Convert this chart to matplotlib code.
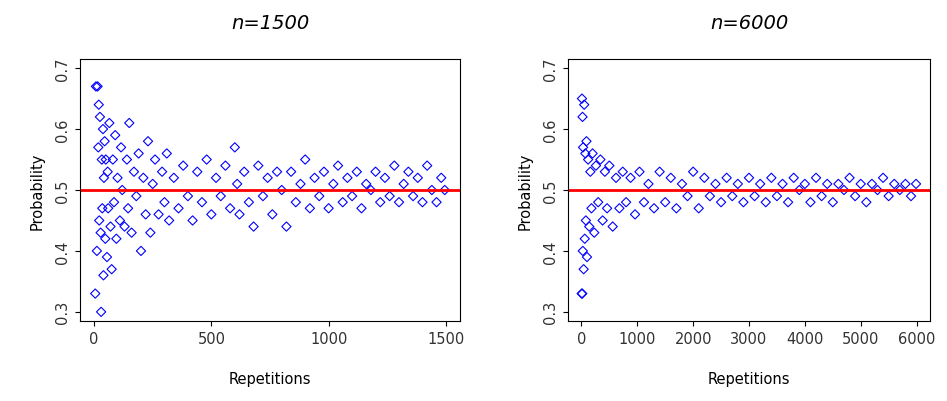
import matplotlib
matplotlib.use('Agg')
import matplotlib.pyplot as plt

# values (a representative subset of the points)
rep_1500 = [5, 8, 12, 15, 18, 20, 22, 25, 28, 30, 33, 35, 38, 40, 42, 45, 48, 50, 55, 58,
            60, 65, 70, 75, 80, 85, 90, 95, 100, 110, 115, 120, 130, 140, 145, 150, 160, 170,
            180, 190, 200, 210, 220, 230, 240, 250, 260, 275, 290, 300, 310, 320, 340, 360,
            380, 400, 420, 440, 460, 480, 500, 520, 540, 560, 580, 600, 610, 620, 640, 660,
            680, 700, 720, 740, 760, 780, 800, 820, 840, 860, 880, 900, 920, 940, 960, 980,
            1000, 1020, 1040, 1060, 1080, 1100, 1120, 1140, 1160, 1180, 1200, 1220, 1240,
            1260, 1280, 1300, 1320, 1340, 1360, 1380, 1400, 1420, 1440, 1460, 1480, 1495]
prob_1500 = [0.33, 0.67, 0.40, 0.67, 0.57, 0.64, 0.45, 0.62, 0.43, 0.30, 0.55, 0.47, 0.60,
             0.36, 0.52, 0.58, 0.42, 0.55, 0.39, 0.53, 0.47, 0.61, 0.44, 0.37, 0.55, 0.48,
             0.59, 0.42, 0.52, 0.45, 0.57, 0.50, 0.44, 0.55, 0.47, 0.61, 0.43, 0.53, 0.49,
             0.56, 0.40, 0.52, 0.46, 0.58, 0.43, 0.51, 0.55, 0.46, 0.53, 0.48, 0.56, 0.45,
             0.52, 0.47, 0.54, 0.49, 0.45, 0.53, 0.48, 0.55, 0.46, 0.52, 0.49, 0.54, 0.47,
             0.57, 0.51, 0.46, 0.53, 0.48, 0.44, 0.54, 0.49, 0.52, 0.46, 0.53, 0.50, 0.44,
             0.53, 0.48, 0.51, 0.55, 0.47, 0.52, 0.49, 0.53, 0.47, 0.51, 0.54, 0.48, 0.52,
             0.49, 0.53, 0.47, 0.51, 0.50, 0.53, 0.48, 0.52, 0.49, 0.54, 0.48, 0.51, 0.53,
             0.49, 0.52, 0.48, 0.54, 0.50, 0.48, 0.52, 0.50]
rep_6000 = [5, 10, 15, 20, 25, 30, 40, 50, 60, 70, 80, 90, 100, 120, 140, 160, 180, 200,
            230, 260, 300, 340, 380, 420, 460, 500, 560, 620, 680, 740, 800, 880, 960, 1040,
            1120, 1200, 1300, 1400, 1500, 1600, 1700, 1800, 1900, 2000, 2100, 2200, 2300,
            2400, 2500, 2600, 2700, 2800, 2900, 3000, 3100, 3200, 3300, 3400, 3500, 3600,
            3700, 3800, 3900, 4000, 4100, 4200, 4300, 4400, 4500, 4600, 4700, 4800, 4900,
            5000, 5100, 5200, 5300, 5400, 5500, 5600, 5700, 5800, 5900, 5990]
prob_6000 = [0.33, 0.65, 0.33, 0.62, 0.40, 0.57, 0.37, 0.64, 0.42, 0.56, 0.45, 0.58, 0.39,
             0.55, 0.44, 0.53, 0.47, 0.56, 0.43, 0.54, 0.48, 0.55, 0.45, 0.53, 0.47, 0.54,
             0.44, 0.52, 0.47, 0.53, 0.48, 0.52, 0.46, 0.53, 0.48, 0.51, 0.47, 0.53, 0.48,
             0.52, 0.47, 0.51, 0.49, 0.53, 0.47, 0.52, 0.49, 0.51, 0.48, 0.52, 0.49, 0.51,
             0.48, 0.52, 0.49, 0.51, 0.48, 0.52, 0.49, 0.51, 0.48, 0.52, 0.50, 0.51, 0.48,
             0.52, 0.49, 0.51, 0.48, 0.51, 0.50, 0.52, 0.49, 0.51, 0.48, 0.51, 0.50, 0.52,
             0.49, 0.51, 0.50, 0.51, 0.49, 0.51]

panels = [('n=1500', rep_1500, prob_1500, [0, 500, 1000, 1500], (-60, 1560)),
          ('n=6000', rep_6000, prob_6000, [0, 1000, 2000, 3000, 4000, 5000, 6000], (-240, 6240))]

fig = plt.figure(figsize=(9.47, 4.02), dpi=100)
boxes = [(80, 380), (568, 362)]
for (title, xs, ys, xt, xl), (left, width) in zip(panels, boxes):
    ax = fig.add_axes([left / 947, 80 / 402, width / 947, 262 / 402])
    ax.scatter(xs, ys, s=22, facecolors='none', edgecolors='blue', linewidths=0.8, marker='D')
    ax.axhline(0.5, color='red', lw=2)
    ax.set_xlim(*xl)
    ax.set_ylim(0.285, 0.715)
    ax.set_xticks(xt)
    ax.set_yticks([0.3, 0.4, 0.5, 0.6, 0.7])
    ax.set_yticklabels(['0.3', '0.4', '0.5', '0.6', '0.7'], rotation=90, va='center')
    ax.tick_params(labelsize=10.5, labelcolor='#333333')
    ax.set_xlabel('Repetitions', fontsize=10.5, labelpad=18)
    ax.set_ylabel('Probability', fontsize=10.5, labelpad=8)
    ax.set_title(title, fontsize=14, style='italic', pad=22)

plt.savefig('out.png', dpi=100)
